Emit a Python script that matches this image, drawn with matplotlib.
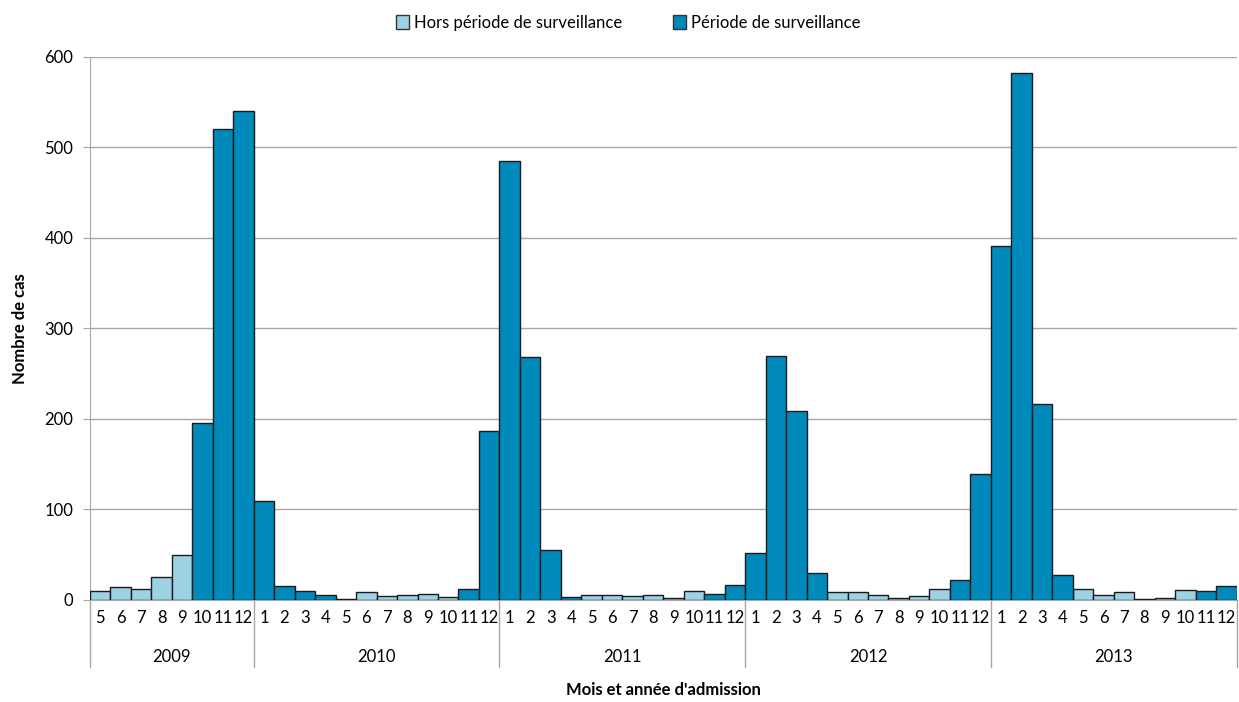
import matplotlib.pyplot as plt
from matplotlib.patches import Patch
import matplotlib.transforms as mtransforms

plt.rcParams["font.family"] = ["Lato", "DejaVu Sans"]

years = [2009, 2010, 2011, 2012, 2013]
months = [
    [5, 6, 7, 8, 9, 10, 11, 12],
    list(range(1, 13)),
    list(range(1, 13)),
    list(range(1, 13)),
    list(range(1, 13)),
]
cases = [
    [10, 14, 12, 25, 50, 195, 520, 540],
    [109, 15, 10, 5, 1, 9, 4, 6, 7, 3, 12, 187],
    [485, 268, 55, 3, 6, 5, 4, 5, 2, 10, 7, 17],
    [52, 270, 209, 30, 9, 9, 6, 2, 4, 12, 22, 139],
    [391, 582, 216, 28, 12, 5, 9, 1, 2, 11, 10, 15],
]
# 1 = période de surveillance, 0 = hors période
in_period = [
    [0, 0, 0, 0, 0, 1, 1, 1],
    [1, 1, 1, 1, 0, 0, 0, 0, 0, 0, 1, 1],
    [1, 1, 1, 1, 0, 0, 0, 0, 0, 0, 1, 1],
    [1, 1, 1, 1, 0, 0, 0, 0, 0, 0, 1, 1],
    [1, 1, 1, 1, 0, 0, 0, 0, 0, 0, 1, 1],
]

light = "#9DD1E4"
dark = "#008ABB"
grid_col = "#A6A6A6"

fig = plt.figure(figsize=(12.39, 7.02), dpi=100)
ax = fig.add_axes([0.0726, 0.1453, 0.9254, 0.7737])

xs, vals, flags, labels = [], [], [], []
for ms, cs, fs in zip(months, cases, in_period):
    for m, c, f in zip(ms, cs, fs):
        xs.append(len(xs))
        vals.append(c)
        flags.append(f)
        labels.append(str(m))

x_hors = [x for x, f in zip(xs, flags) if not f]
v_hors = [v for v, f in zip(vals, flags) if not f]
x_per = [x for x, f in zip(xs, flags) if f]
v_per = [v for v, f in zip(vals, flags) if f]

ax.bar(x_hors, v_hors, width=1.0, color=light, edgecolor="#1a1a1a", linewidth=1, zorder=3)
ax.bar(x_per, v_per, width=1.0, color=dark, edgecolor="#1a1a1a", linewidth=1, zorder=3)

ax.set_xlim(-0.5, len(xs) - 0.5)
ax.set_ylim(0, 600)
ax.set_yticks(range(0, 601, 100))
ax.grid(axis="y", color=grid_col, linewidth=1, zorder=0)
ax.set_axisbelow(True)

for s in ["top", "right"]:
    ax.spines[s].set_visible(False)
for s in ["left", "bottom"]:
    ax.spines[s].set_color(grid_col)

ax.set_xticks(xs)
ax.set_xticklabels(labels, fontsize=12)
ax.tick_params(axis="x", length=0, pad=7)
ax.tick_params(axis="y", length=5, color=grid_col, labelsize=12, pad=7)

trans = mtransforms.blended_transform_factory(ax.transData, ax.transAxes)
start = -0.5
for yr, ms in zip(years, months):
    end = start + len(ms)
    ax.text((start + end) / 2, -0.105, str(yr), transform=trans,
            ha="center", va="center", fontsize=12)
    ax.plot([end, end], [0, -0.123], transform=trans, color=grid_col,
            linewidth=1, clip_on=False)
    start = end
ax.plot([-0.5, -0.5], [0, -0.123], transform=trans, color=grid_col,
        linewidth=1, clip_on=False)

ax.set_ylabel("Nombre de cas", fontsize=12, fontweight="bold", labelpad=12)
ax.text(0.5, -0.166, "Mois et année d'admission", transform=ax.transAxes,
        ha="center", va="center", fontsize=12, fontweight="bold")

handles = [
    Patch(facecolor=light, edgecolor="#333333", label="Hors période de surveillance"),
    Patch(facecolor=dark, edgecolor="#333333", label="Période de surveillance"),
]
fig.legend(handles=handles, loc="upper center", bbox_to_anchor=(0.507, 1.0),
           ncol=2, frameon=False, fontsize=12, handlelength=0.8,
           handleheight=0.9, handletextpad=0.3, columnspacing=3)

fig.savefig("out.png", dpi=100)
